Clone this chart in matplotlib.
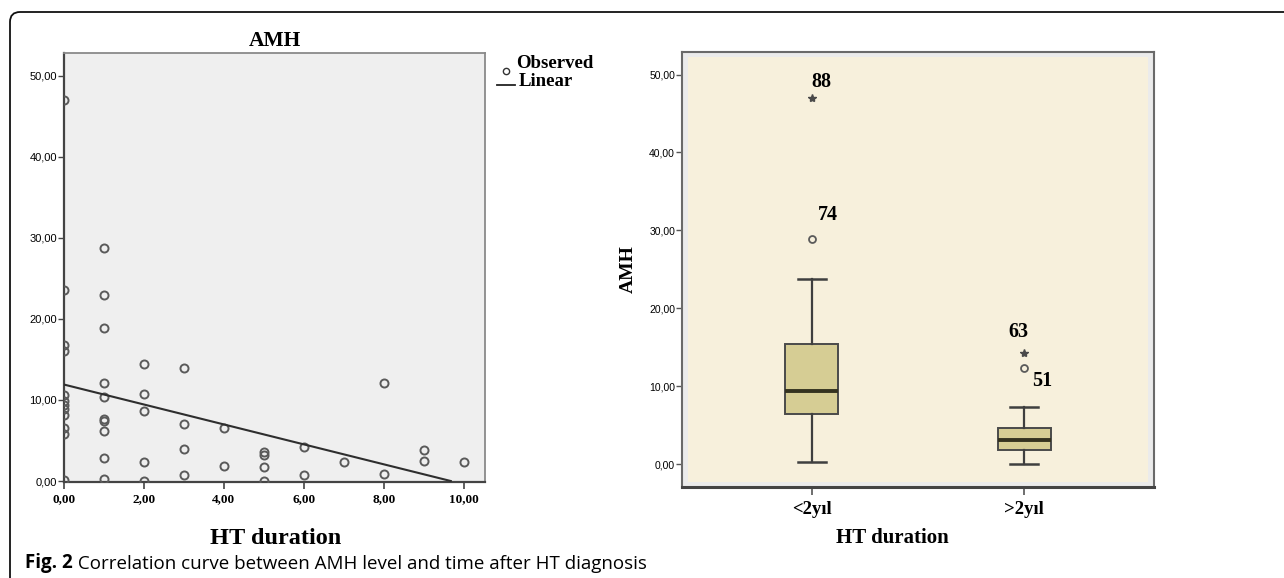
import matplotlib
matplotlib.use("Agg")
import matplotlib.pyplot as plt
from matplotlib.lines import Line2D
from matplotlib.patches import FancyBboxPatch, Rectangle
from matplotlib.transforms import IdentityTransform

# ---------------- data ----------------
# Left panel: observed AMH vs HT duration (years)
ht_duration = [0, 0, 0, 0, 0, 0, 0, 0, 0, 0, 0, 0,
               1, 1, 1, 1, 1, 1, 1, 1, 1, 1,
               2, 2, 2, 2, 2,
               3, 3, 3, 3,
               4, 4,
               5, 5, 5, 5,
               6, 6,
               7,
               8, 8,
               9, 9,
               10]
amh_observed = [47.0, 23.6, 16.8, 16.0, 10.6, 9.9, 9.4, 8.9, 8.1, 6.5, 5.8, 0.1,
                28.8, 22.9, 18.9, 12.1, 10.4, 7.7, 7.4, 6.2, 2.9, 0.3,
                14.4, 10.7, 8.6, 2.4, 0.0,
                13.9, 7.0, 3.9, 0.8,
                6.5, 1.9,
                3.6, 3.2, 1.7, 0.0,
                4.2, 0.8,
                2.4,
                12.1, 0.9,
                3.8, 2.5,
                2.4]
linear_intercept = 11.9
linear_slope = -1.23

left_xticks = [0, 2, 4, 6, 8, 10]
left_yticks = [0, 10, 20, 30, 40, 50]

# Right panel: boxplot of AMH by HT duration group
groups = ["<2yıl", ">2yıl"]
whisker_low = [0.26, 0.05]
quartile1 = [6.47, 1.85]
medians = [9.33, 3.04]
quartile3 = [15.45, 4.62]
whisker_high = [23.8, 7.28]

outlier_group = [0, 0, 1, 1]
outlier_value = [47.0, 28.9, 14.2, 12.3]
outlier_kind = ["extreme", "mild", "extreme", "mild"]
outlier_id = ["88", "74", "63", "51"]

right_yticks = [0, 10, 20, 30, 40, 50]


def fmt(v):
    return f"{v:.2f}".replace(".", ",")


SERIF = "Liberation Serif"
SANS = "Liberation Sans"

W, H = 1284, 578
fig = plt.figure(figsize=(W / 100, H / 100), dpi=100)
fig.patch.set_facecolor("white")

# outer rounded frame
frame = FancyBboxPatch((10, -40), 1400, 566 + 40, boxstyle="round,pad=0,rounding_size=10",
                       transform=IdentityTransform(), facecolor="none",
                       edgecolor="#111111", linewidth=1.3)
fig.add_artist(frame)

# ---------------- left panel ----------------
axL = fig.add_axes([64 / W, 1 - 482 / H, 421 / W, 429 / H])
axL.set_facecolor("#efefef")
axL.set_xlim(0, 10.53)
axL.set_ylim(-0.12, 52.8)

axL.plot(ht_duration, amh_observed, linestyle="none", marker="o", markersize=5.8,
         markerfacecolor="none", markeredgecolor="#5a5a5a", markeredgewidth=1.4,
         clip_on=True, zorder=3)

x_end = -linear_intercept / linear_slope
axL.plot([0, x_end], [linear_intercept, linear_intercept + linear_slope * x_end],
         color="#2e2e2e", linewidth=1.5, zorder=4)

axL.set_xticks(left_xticks)
axL.set_xticklabels([fmt(v) for v in left_xticks], fontfamily=SERIF,
                    fontweight="bold", fontsize=9.5)
axL.set_yticks(left_yticks)
axL.set_yticklabels([fmt(v) for v in left_yticks], fontfamily=SANS, fontsize=8)
axL.tick_params(axis="x", length=5, width=1.2, color="#444444", pad=3)
axL.tick_params(axis="y", length=4, width=1.0, color="#444444", pad=1)
for s in ["top", "right"]:
    axL.spines[s].set_color("#8a8a8a")
    axL.spines[s].set_linewidth(1.3)
for s in ["left", "bottom"]:
    axL.spines[s].set_color("#444444")
    axL.spines[s].set_linewidth(1.6)

axL.set_title("AMH", fontfamily=SERIF, fontweight="bold", fontsize=15.5, pad=5)
axL.set_xlabel("HT duration", fontfamily=SERIF, fontweight="bold", fontsize=17.5)
axL.xaxis.set_label_coords((276 - 64) / 421, (482 - 528) / 429)

# manual legend
fig.add_artist(Line2D([506.5 / W], [1 - 71 / H], marker="o", markersize=4.5,
                      markerfacecolor="none", markeredgecolor="#333333",
                      markeredgewidth=1.0, transform=fig.transFigure))
fig.add_artist(Line2D([497 / W, 515 / W], [1 - 85 / H, 1 - 85 / H], color="#222222",
                      linewidth=1.3, transform=fig.transFigure))
fig.text(516 / W, 1 - 63 / H, "Observed", fontfamily=SERIF, fontweight="bold",
         fontsize=13.5, va="center", ha="left")
fig.text(519 / W, 1 - 82 / H, "Linear", fontfamily=SERIF, fontweight="bold",
         fontsize=13.5, va="center", ha="left")

# ---------------- right panel ----------------
axR = fig.add_axes([682 / W, 1 - 487 / H, 472 / W, 435 / H])
axR.set_facecolor("#ebebeb")
axR.add_patch(Rectangle((0.012, 0.012), 0.976, 0.976, transform=axR.transAxes,
                        facecolor="#f7f0dc", edgecolor="none", zorder=0))
axR.set_xlim(-0.611, 1.611)
axR.set_ylim(-2.95, 52.9)

stats = []
for i, g in enumerate(groups):
    stats.append(dict(label=g, whislo=whisker_low[i], q1=quartile1[i], med=medians[i],
                      q3=quartile3[i], whishi=whisker_high[i], fliers=[]))
axR.bxp(stats, positions=[0, 1], widths=0.25, patch_artist=True, showfliers=False,
        boxprops=dict(facecolor="#d6cd94", edgecolor="#4a4a4a", linewidth=1.4),
        medianprops=dict(color="#34321f", linewidth=2.8),
        whiskerprops=dict(color="#3f3f3f", linewidth=1.6),
        capprops=dict(color="#3f3f3f", linewidth=1.8), capwidths=0.13,
        zorder=3)

label_offsets = {"88": (7, 11.5), "74": (11.5, 17), "63": (-4.5, 15.5), "51": (12.7, -9)}
for g, v, k, lab in zip(outlier_group, outlier_value, outlier_kind, outlier_id):
    if k == "extreme":
        axR.plot([g], [v], marker="*", markersize=6, color="#4a4a4a",
                 linestyle="none", zorder=4)
    else:
        axR.plot([g], [v], marker="o", markersize=5, markerfacecolor="none",
                 markeredgecolor="#5a5a5a", markeredgewidth=1.3,
                 linestyle="none", zorder=4)
    axR.annotate(lab, xy=(g, v), xytext=label_offsets[lab], textcoords="offset points",
                 ha="center", va="center", fontfamily=SERIF, fontweight="bold",
                 fontsize=14.5)

axR.set_xticks([0, 1])
axR.set_xticklabels(groups, fontfamily=SERIF, fontweight="bold", fontsize=13.5)
axR.set_yticks(right_yticks)
axR.set_yticklabels([fmt(v) for v in right_yticks], fontfamily=SANS, fontsize=7.5)
axR.tick_params(axis="x", length=6, width=1.2, color="#555555", pad=4)
axR.tick_params(axis="y", length=4, width=1.0, color="#555555", pad=1)
for s in ["top", "right", "left"]:
    axR.spines[s].set_color("#6a6a6a")
    axR.spines[s].set_linewidth(1.5)
axR.spines["bottom"].set_color("#444444")
axR.spines["bottom"].set_linewidth(2.2)

axR.set_ylabel("AMH", fontfamily=SERIF, fontweight="bold", fontsize=14)
axR.yaxis.set_label_coords(-45 / 472, 0.5)
axR.set_xlabel("HT duration", fontfamily=SERIF, fontweight="bold", fontsize=15)
axR.xaxis.set_label_coords((892 - 682) / 472, (487 - 528) / 435)

# ---------------- caption ----------------
t1 = fig.text(25 / W, 1 - 563 / H, "Fig. 2", fontfamily="Open Sans", fontweight="bold",
              fontsize=13.5, va="center", ha="left")
axR.annotate(" Correlation curve between AMH level and time after HT diagnosis",
             xy=(1, 0), xycoords=t1, va="bottom", ha="left",
             fontfamily="Open Sans", fontsize=13.5, annotation_clip=False)

fig.savefig("out.png", dpi=100)
